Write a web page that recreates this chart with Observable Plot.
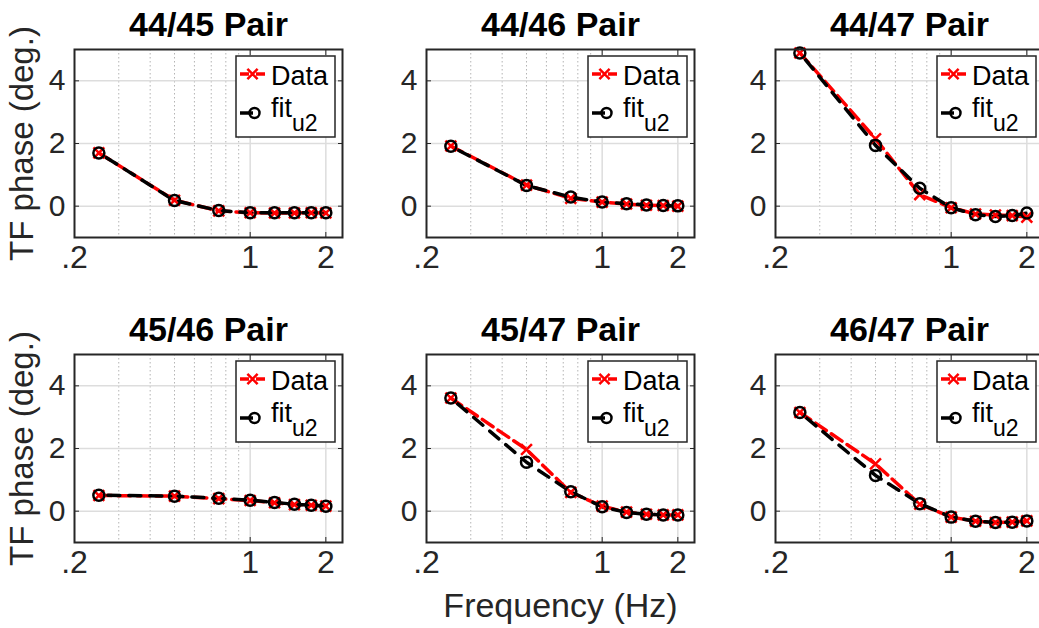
<!DOCTYPE html>
<html><head><meta charset="utf-8">
<script src="https://cdn.jsdelivr.net/npm/d3@7"></script>
<script src="https://cdn.jsdelivr.net/npm/@observablehq/plot@0.6"></script>
<style>
html,body{margin:0;padding:0;background:#fff;overflow:hidden;}
#chart{position:relative;width:1039px;height:628px;overflow:hidden;font-family:"Liberation Sans",Arial,Helvetica,sans-serif;background:#fff;}
#chart svg{position:absolute;overflow:visible;max-width:none;}
</style></head><body><div id="chart"></div>
<script>
// ---- data ----
const freqs = [0.25, 0.5, 0.75, 1, 1.25, 1.5, 1.75, 2];
const titles = ["44/45 Pair", "44/46 Pair", "44/47 Pair", "45/46 Pair", "45/47 Pair", "46/47 Pair"];
const data_44_45 = [1.70, 0.19, -0.15, -0.21, -0.22, -0.22, -0.21, -0.22];
const fit_44_45  = [1.70, 0.18, -0.14, -0.21, -0.21, -0.21, -0.21, -0.21];
const data_44_46 = [1.92, 0.67, 0.25, 0.13, 0.07, 0.03, 0.02, 0.00];
const fit_44_46  = [1.91, 0.66, 0.29, 0.13, 0.08, 0.04, 0.02, 0.01];
const data_44_47 = [4.89, 2.15, 0.37, -0.05, -0.25, -0.28, -0.30, -0.35];
const fit_44_47  = [4.89, 1.94, 0.57, -0.05, -0.27, -0.33, -0.30, -0.22];
const data_45_46 = [0.50, 0.48, 0.40, 0.34, 0.27, 0.21, 0.19, 0.16];
const fit_45_46  = [0.51, 0.48, 0.41, 0.35, 0.28, 0.22, 0.19, 0.16];
const data_45_47 = [3.61, 1.97, 0.60, 0.16, -0.03, -0.10, -0.12, -0.12];
const fit_45_47  = [3.61, 1.56, 0.62, 0.14, -0.04, -0.10, -0.12, -0.12];
const data_46_47 = [3.15, 1.51, 0.22, -0.19, -0.32, -0.36, -0.35, -0.31];
const fit_46_47  = [3.15, 1.14, 0.24, -0.19, -0.32, -0.36, -0.35, -0.31];
const xTicks = [0.2, 1, 2];
const xTickLabels = [".2", "1", "2"];
const yTicks = [0, 2, 4];
const minorGridX = [0.3, 0.4, 0.5, 0.6, 0.7, 0.8, 0.9];
const majorGridX = [1, 2];
const xDomain = [0.2, 2.33];
const yDomain = [-1, 5];
const yLabel = "TF phase (deg.)";
const xLabel = "Frequency (Hz)";
const legendLabels = ["Data", "fit", "u2"];

const dataSets = [data_44_45, data_44_46, data_44_47, data_45_46, data_45_47, data_46_47];
const fitSets  = [fit_44_45, fit_44_46, fit_44_47, fit_45_46, fit_45_47, fit_46_47];

// ---- layout ----
const W = 268, H = 188, ML = 50, MR = 10, MT = 40, MB = 40;
const colLeft = [74, 426, 775];
const rowTop = [49, 354];
const axisColor = "#262626";
const FONT = "Liberation Sans, Arial, Helvetica, sans-serif";

const chart = document.getElementById("chart");

titles.forEach((title, k) => {
  const col = k % 3, row = Math.floor(k / 3);
  const rows = freqs.map((f, i) => ({f, data: dataSets[k][i], fit: fitSets[k][i]}));
  const marks = [
    Plot.ruleX(minorGridX, {stroke: "#b4b4b4", strokeWidth: 1, strokeDasharray: "1.5,2.5"}),
    Plot.ruleX(majorGridX, {stroke: "#dddddd", strokeWidth: 1.5}),
    Plot.ruleY(yTicks, {stroke: "#dddddd", strokeWidth: 1.5}),
    Plot.axisY({anchor: "left", ticks: yTicks, tickSize: -5, tickFormat: () => "", color: axisColor, label: null}),
    Plot.axisY({anchor: "right", ticks: yTicks, tickSize: -5, tickFormat: () => "", color: axisColor, label: null}),
    Plot.axisX({anchor: "bottom", ticks: xTicks, tickSize: -5, tickFormat: () => "", color: axisColor, label: null}),
    Plot.axisX({anchor: "top", ticks: xTicks, tickSize: -5, tickFormat: () => "", color: axisColor, label: null}),
    Plot.axisY({anchor: "left", ticks: yTicks, tickSize: 0, tickPadding: 9, tickFormat: d => String(d),
      fontSize: 30, color: axisColor, label: null}),
    Plot.axisX({anchor: "bottom", ticks: xTicks, tickSize: 0, tickPadding: 8,
      tickFormat: d => xTickLabels[xTicks.indexOf(d)], fontSize: 32, color: axisColor, label: null}),
    Plot.line(rows, {x: "f", y: "data", stroke: "#ff0000", strokeWidth: 3.5, strokeDasharray: "13,6"}),
    Plot.line(rows, {x: "f", y: "fit", stroke: "#000000", strokeWidth: 3.5, strokeDasharray: "12,9", strokeDashoffset: 12}),
    Plot.dot(rows, {x: "f", y: "data", symbol: "times", r: 5, stroke: "#ff0000", strokeWidth: 2.5}),
    Plot.dot(rows, {x: "f", y: "fit", r: 5.5, stroke: "#000000", strokeWidth: 2.5, fill: "none"}),
    Plot.frame({stroke: axisColor, strokeWidth: 2}),
    Plot.text([title], {frameAnchor: "top", lineAnchor: "middle", dy: -24, fontSize: 34, fontWeight: "bold", fill: "#000"})
  ];
  if (col === 0) {
    marks.push(Plot.text([yLabel], {frameAnchor: "left", textAnchor: "middle", lineAnchor: "middle",
      rotate: -90, dx: -52, fontSize: 33, fill: axisColor}));
  }
  if (k === 4) {
    marks.push(Plot.text([xLabel], {frameAnchor: "bottom", lineAnchor: "middle", dy: 64, fontSize: 34, fill: axisColor}));
  }
  const svg = Plot.plot({
    width: ML + W + MR, height: MT + H + MB,
    marginLeft: ML, marginRight: MR, marginTop: MT, marginBottom: MB,
    x: {type: "log", domain: xDomain},
    y: {domain: yDomain},
    style: {fontFamily: FONT, overflow: "visible", background: "transparent"},
    marks
  });
  svg.style.left = (colLeft[col] - ML) + "px";
  svg.style.top = (rowTop[row] - MT) + "px";

  // legend box (top-right inside the axes)
  const lw = 99, lh = 81;
  const g = d3.select(svg).append("g")
    .attr("transform", `translate(${ML + W - 7 - lw},${MT + 7})`)
    .attr("font-family", FONT).attr("text-anchor", "start");
  g.append("rect").attr("width", lw).attr("height", lh).attr("fill", "#fff")
    .attr("stroke", axisColor).attr("stroke-width", 1.5);
  g.append("line").attr("x1", 4).attr("x2", 29).attr("y1", 18).attr("y2", 18)
    .attr("stroke", "#ff0000").attr("stroke-width", 3.5).attr("stroke-dasharray", "9,7");
  g.append("path").attr("d", d3.symbol(d3.symbolTimes, 70)())
    .attr("transform", "translate(16.5,18)").attr("stroke", "#ff0000").attr("stroke-width", 2.5).attr("fill", "none");
  g.append("text").attr("x", 35).attr("y", 28.5).attr("font-size", 27).attr("fill", "#000")
    .attr("text-anchor", "start").text(legendLabels[0]);
  g.append("line").attr("x1", 4).attr("x2", 17).attr("y1", 57).attr("y2", 57)
    .attr("stroke", "#000").attr("stroke-width", 3.5);
  g.append("circle").attr("cx", 18.5).attr("cy", 57).attr("r", 5)
    .attr("stroke", "#000").attr("stroke-width", 2.5).attr("fill", "none");
  const t = g.append("text").attr("x", 35).attr("y", 61).attr("font-size", 27).attr("fill", "#000")
    .attr("text-anchor", "start");
  t.append("tspan").text(legendLabels[1]);
  t.append("tspan").attr("dy", 14).attr("font-size", 23).text(legendLabels[2]);

  chart.appendChild(svg);
});
</script></body></html>
